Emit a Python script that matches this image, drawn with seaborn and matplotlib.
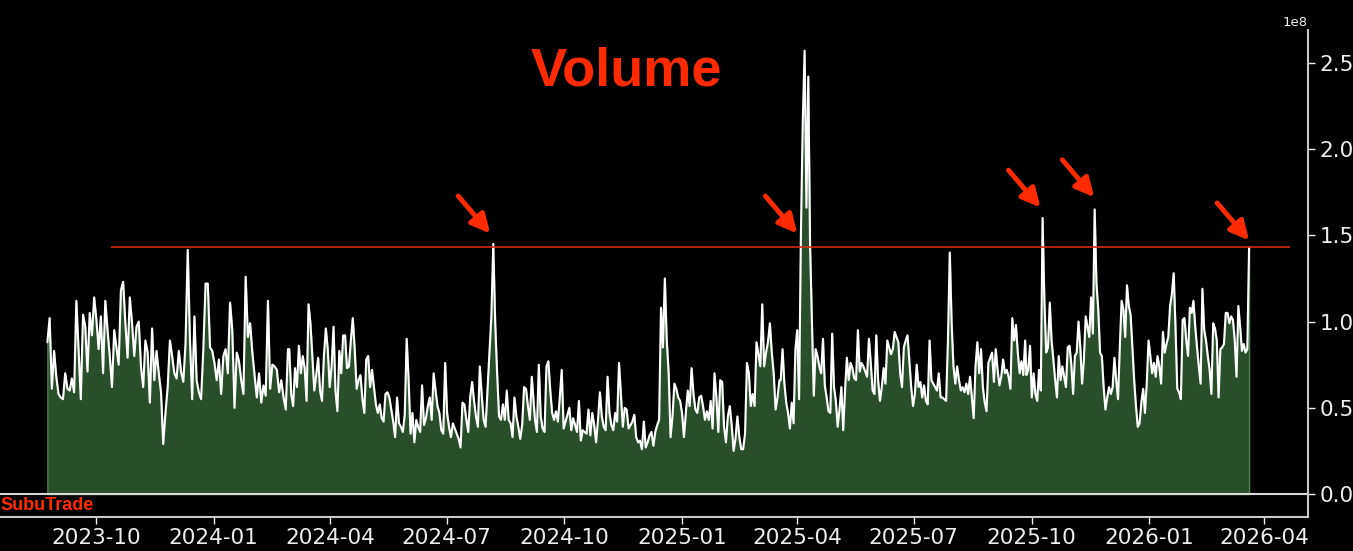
import pandas as pd
import matplotlib
matplotlib.use("Agg")
import matplotlib.pyplot as plt
import matplotlib.dates as mdates
import seaborn as sns

# daily volume in units of 1e8 in five stretches
seg_bounds = [
    ("2023-08-24", "2024-02-28"),
    ("2024-02-29", "2024-09-07"),
    ("2024-09-08", "2025-03-18"),
    ("2025-03-19", "2025-09-26"),
    ("2025-09-27", "2026-03-20"),
]
vol_seg1 = [0.88, 1.02, 0.61, 0.83, 0.68, 0.58, 0.56, 0.55, 0.70, 0.61, 0.60, 0.67, 0.59, 1.12, 0.84,
            0.55, 1.04, 0.97, 0.71, 1.05, 0.92, 1.14, 1.01, 0.84, 1.03, 0.70, 1.12, 0.95, 0.80, 0.62,
            0.95, 0.85, 0.75, 1.18, 1.23, 0.99, 0.79, 1.14, 0.99, 0.80, 0.97, 1.00, 0.74, 0.62, 0.89,
            0.82, 0.53, 0.96, 0.66, 0.83, 0.70, 0.59, 0.29, 0.47, 0.62, 0.89, 0.80, 0.70, 0.67, 0.83,
            0.71, 0.65, 0.87, 1.415, 0.89, 0.55, 1.03, 0.66, 0.59, 0.55, 0.84, 1.22, 1.22, 0.85, 0.83,
            0.76, 0.66, 0.78, 0.58, 0.80, 0.84, 0.70, 1.11, 0.95, 0.50, 0.82, 0.77, 0.66, 0.58, 1.26,
            0.91, 0.99, 0.82, 0.69, 0.56, 0.70, 0.53, 0.63, 0.57, 1.12, 0.61, 0.75, 0.74, 0.72, 0.59,
            0.66, 0.56, 0.49, 0.84]
vol_seg2 = [0.84, 0.58, 0.51, 0.73, 0.62, 0.86, 0.70, 0.80, 0.73, 0.54, 1.10, 0.99, 0.80, 0.60, 0.69,
            0.79, 0.60, 0.54, 0.80, 0.96, 0.84, 0.62, 0.74, 0.97, 0.60, 0.48, 0.83, 0.70, 0.92, 0.92,
            0.73, 0.74, 0.89, 1.02, 0.84, 0.61, 0.66, 0.69, 0.55, 0.47, 0.78, 0.80, 0.62, 0.72, 0.62,
            0.52, 0.47, 0.52, 0.44, 0.42, 0.58, 0.59, 0.56, 0.49, 0.42, 0.33, 0.56, 0.41, 0.39, 0.36,
            0.46, 0.90, 0.66, 0.35, 0.47, 0.30, 0.43, 0.39, 0.36, 0.63, 0.40, 0.44, 0.51, 0.56, 0.43,
            0.70, 0.60, 0.51, 0.47, 0.37, 0.35, 0.76, 0.47, 0.39, 0.33, 0.41, 0.38, 0.35, 0.32, 0.27,
            0.53, 0.52, 0.43, 0.36, 0.56, 0.65, 0.54, 0.45, 0.39, 0.74, 0.57, 0.43, 0.39, 0.60, 0.81,
            1.03, 1.45, 0.99, 0.70, 0.45, 0.43, 0.52, 0.43, 0.60, 0.43, 0.41, 0.33, 0.56, 0.45, 0.39,
            0.32, 0.40, 0.62, 0.61, 0.51, 0.43, 0.68, 0.53]
vol_seg3 = [0.43, 0.36, 0.75, 0.45, 0.38, 0.36, 0.74, 0.77, 0.60, 0.47, 0.43, 0.48, 0.42, 0.56, 0.72,
            0.38, 0.42, 0.46, 0.50, 0.37, 0.44, 0.40, 0.36, 0.54, 0.31, 0.37, 0.36, 0.35, 0.49, 0.34,
            0.47, 0.40, 0.30, 0.43, 0.59, 0.45, 0.39, 0.37, 0.68, 0.47, 0.40, 0.37, 0.47, 0.42, 0.76,
            0.58, 0.39, 0.50, 0.49, 0.38, 0.40, 0.42, 0.46, 0.33, 0.30, 0.31, 0.26, 0.42, 0.27, 0.30,
            0.34, 0.36, 0.28, 0.36, 0.40, 0.43, 1.08, 0.85, 1.25, 0.89, 0.70, 0.33, 0.45, 0.64, 0.61,
            0.56, 0.54, 0.47, 0.33, 0.47, 0.60, 0.51, 0.73, 0.58, 0.49, 0.47, 0.56, 0.57, 0.51, 0.43,
            0.48, 0.43, 0.54, 0.38, 0.70, 0.56, 0.36, 0.66, 0.65, 0.39, 0.30, 0.45, 0.51, 0.40, 0.25,
            0.32, 0.45, 0.33, 0.26, 0.26, 0.35, 0.76, 0.70, 0.51, 0.58, 0.51, 0.88, 0.81, 0.74, 1.10,
            0.74, 0.82, 0.88, 0.99, 0.82, 0.70, 0.49, 0.56, 0.66]
vol_seg4 = [0.66, 0.84, 0.64, 0.53, 0.47, 0.38, 0.53, 0.41, 0.84, 0.95, 0.55, 1.51, 2.15, 2.57, 1.66,
            2.42, 1.43, 0.99, 0.57, 0.84, 0.80, 0.74, 0.70, 0.90, 0.63, 0.56, 0.48, 0.47, 0.93, 0.62,
            0.54, 0.39, 0.49, 0.62, 0.37, 0.60, 0.79, 0.66, 0.76, 0.73, 0.67, 0.66, 0.95, 0.71, 0.76,
            0.74, 0.71, 0.68, 0.90, 0.76, 0.60, 0.58, 0.92, 0.66, 0.54, 0.62, 0.73, 0.64, 0.89, 0.85,
            0.81, 0.84, 0.94, 0.91, 0.88, 0.70, 0.62, 0.85, 0.89, 0.92, 0.77, 0.62, 0.51, 0.58, 0.75,
            0.62, 0.65, 0.56, 0.63, 0.54, 0.52, 0.89, 0.66, 0.64, 0.62, 0.60, 0.70, 0.56, 0.56, 0.55,
            0.54, 0.89, 1.40, 0.99, 0.74, 0.64, 0.74, 0.66, 0.60, 0.62, 0.59, 0.64, 0.58, 0.68, 0.56,
            0.44, 0.74, 0.88, 0.70, 0.84, 0.62, 0.53, 0.48, 0.76, 0.79, 0.82, 0.65, 0.84, 0.72, 0.63,
            0.68, 0.78, 0.70, 0.72, 0.68, 0.61, 1.02, 0.89, 0.98, 0.82, 0.70, 0.77, 0.69, 0.89]
vol_seg5 = [0.69, 0.72, 0.86, 0.56, 0.70, 0.58, 0.54, 0.72, 0.60, 1.60, 1.12, 0.82, 0.85, 1.11, 0.89,
            0.78, 0.66, 0.56, 0.80, 0.66, 0.74, 0.68, 0.62, 0.85, 0.86, 0.75, 0.58, 0.80, 0.82, 1.00,
            0.85, 0.64, 0.78, 1.03, 0.97, 0.91, 1.14, 0.93, 1.65, 1.22, 1.07, 0.82, 0.80, 0.62, 0.49,
            0.56, 0.62, 0.58, 0.62, 0.79, 0.66, 0.55, 0.85, 1.12, 1.07, 0.91, 1.21, 1.09, 1.04, 0.85,
            0.66, 0.51, 0.39, 0.41, 0.53, 0.61, 0.47, 0.64, 0.89, 0.80, 0.70, 0.76, 0.68, 0.80, 0.74,
            0.64, 0.94, 0.82, 0.87, 0.91, 1.09, 1.16, 1.28, 0.97, 0.61, 0.59, 0.55, 1.01, 1.02, 0.89,
            0.80, 1.08, 1.05, 1.12, 0.97, 0.85, 0.74, 0.64, 1.19, 0.95, 0.89, 0.80, 0.72, 0.58, 0.99,
            0.96, 0.89, 0.56, 0.84, 0.85, 0.87, 1.05, 1.05, 0.99, 1.03, 1.01, 0.89, 0.68, 1.09, 0.97,
            0.83, 0.87, 0.82, 0.84, 1.43]

# red arrows point at these spikes (tip position, 1e8 units)
arrow_dates = ["2024-08-04", "2025-04-01", "2025-10-08", "2025-11-19", "2026-03-20"]
arrow_tips = [1.51, 1.51, 1.66, 1.72, 1.47]

# threshold line drawn at the latest volume
line_start, line_end = "2023-10-13", "2026-04-21"

parts = []
for (start, end), vals in zip(seg_bounds, [vol_seg1, vol_seg2, vol_seg3, vol_seg4, vol_seg5]):
    parts.append(pd.Series(vals, index=pd.date_range(start, end, periods=len(vals))))
volume = pd.concat(parts) * 1e8
df = pd.DataFrame({"date": volume.index, "volume": volume.values})

sns.set_theme(style="dark", rc={"axes.facecolor": "black", "figure.facecolor": "black"})

fig = plt.figure(figsize=(13.53, 5.51), dpi=100)
ax = fig.add_axes([0.0, 0.0617, 0.9667, 0.884])
ax.set_facecolor("black")

ax.fill_between(df["date"], df["volume"], color="#2a4e2b", edgecolor="#4f7f4f", lw=1)
sns.lineplot(data=df, x="date", y="volume", ax=ax, color="white", lw=1.5)
ax.axhline(0, color="#d8d8d8", lw=1.5)
ax.hlines(df["volume"].iloc[-1], pd.Timestamp(line_start), pd.Timestamp(line_end),
          color="#d42a10", lw=1.2)

for d, v in zip(arrow_dates, arrow_tips):
    ax.annotate("", xy=(pd.Timestamp(d), v * 1e8), xytext=(-23, 27), textcoords="offset points",
                arrowprops=dict(arrowstyle="-|>", color="#ff2a00", lw=3.5, mutation_scale=28,
                                shrinkA=0, shrinkB=0))

ax.set_xlim(pd.Timestamp("2023-07-18"), pd.Timestamp("2026-05-05"))
ax.set_ylim(-0.133e8, 2.69e8)
ax.xaxis.set_major_locator(mdates.MonthLocator(bymonth=[1, 4, 7, 10]))
ax.xaxis.set_major_formatter(mdates.DateFormatter("%Y-%m"))
ax.set_xlabel("")
ax.set_ylabel("")

ax.yaxis.tick_right()
ax.yaxis.set_offset_position("right")
ax.tick_params(axis="x", bottom=True, colors="#eeeeee", labelsize=15.5, length=5, width=1, pad=3)
ax.tick_params(axis="y", right=True, left=False, labelright=True, labelleft=False,
               colors="#eeeeee", labelsize=15.5, length=5, width=1)
ax.yaxis.get_offset_text().set_fontsize(9.5)
ax.yaxis.get_offset_text().set_color("#eeeeee")

for side in ["left", "top"]:
    ax.spines[side].set_visible(False)
for side in ["right", "bottom"]:
    ax.spines[side].set_color("#c8c8c8")
    ax.spines[side].set_linewidth(1.5)

fig.text(626 / 1353, 1 - 72 / 551, "Volume", ha="center", va="center", fontsize=39,
         fontweight="bold", color="#ff2a00", family="Liberation Sans")
fig.text(0.0, 1 - 506 / 551, "SubuTrade", ha="left", va="center", fontsize=13,
         fontweight="bold", color="#ff2a00", family="Liberation Sans")

fig.savefig("out.png", dpi=100, facecolor="black")
